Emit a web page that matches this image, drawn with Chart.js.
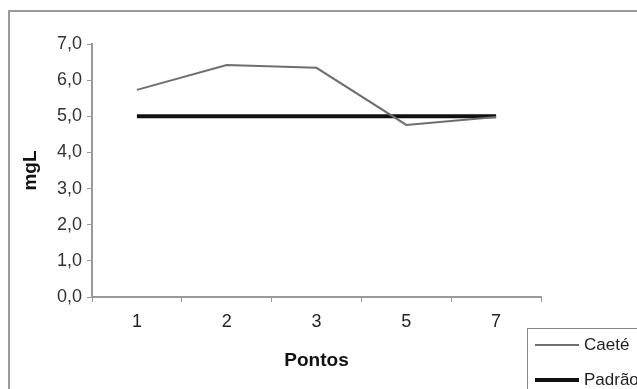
<!DOCTYPE html>
<html>
<head>
<meta charset="utf-8">
<script src="https://cdn.jsdelivr.net/npm/chart.js@4"></script>
<style>
  html, body { margin: 0; padding: 0; background: #fff; }
  #wrap { width: 637px; height: 389px; }
</style>
</head>
<body>
<div id="wrap"><canvas id="grafico" width="637" height="389"></canvas></div>
<script>
// dados
const pontos = ['1', '2', '3', '5', '7'];
const caete = [5.73, 6.42, 6.34, 4.76, 4.98];
const padrao = [5.0, 5.0, 5.0, 5.0, 5.0];
const yTicks = [0, 1, 2, 3, 4, 5, 6, 7];

const fonte = "'Liberation Sans', Arial, sans-serif";

// moldura e legenda desenhadas a mao (estilo Excel)
const molduraPlugin = {
    id: 'moldura',
    beforeDraw: (chart) => {
        const ctx = chart.ctx;
        ctx.save();
        ctx.fillStyle = '#fff';
        ctx.fillRect(0, 0, chart.width, chart.height);
        ctx.strokeStyle = '#9a9a9a';
        ctx.lineWidth = 2;
        ctx.beginPath();
        ctx.moveTo(9, chart.height + 2);
        ctx.lineTo(9, 11);
        ctx.lineTo(chart.width + 2, 11);
        ctx.stroke();
        ctx.restore();
    },
    afterDraw: (chart) => {
        const ctx = chart.ctx;
        ctx.save();
        ctx.strokeStyle = '#888';
        ctx.lineWidth = 1;
        ctx.strokeRect(527.5, 328.5, 140, 80);
        ctx.font = '17px ' + fonte;
        ctx.textBaseline = 'middle';
        ctx.fillStyle = '#222';
        chart.data.datasets.forEach((ds, i) => {
            const y = 345 + i * 35;
            ctx.strokeStyle = ds.borderColor;
            ctx.lineWidth = ds.borderWidth;
            ctx.beginPath();
            ctx.moveTo(535, y);
            ctx.lineTo(579, y);
            ctx.stroke();
            ctx.fillText(ds.label, 584, y);
        });
        ctx.restore();
    }
};

const data = {
    labels: pontos,
    datasets: [
        {
            label: 'Caeté',
            data: caete,
            borderColor: '#6e6e6e',
            borderWidth: 2,
            pointRadius: 0,
            tension: 0
        },
        {
            label: 'Padrão',
            data: padrao,
            borderColor: '#111',
            borderWidth: 4,
            pointRadius: 0,
            tension: 0
        }
    ]
};

const config = {
    type: 'line',
    data: data,
    plugins: [molduraPlugin],
    options: {
        responsive: false,
        animation: false,
        layout: { padding: { left: 0, right: 96, top: 44, bottom: 0 } },
        plugins: {
            legend: { display: false },
            tooltip: { enabled: false }
        },
        scales: {
            x: {
                offset: true,
                grid: { display: true, drawOnChartArea: false, offset: true, tickLength: 5, color: '#999', lineWidth: 1 },
                border: { display: true, color: '#999', width: 2 },
                ticks: { color: '#222', padding: 9, font: { family: fonte, size: 18 } },
                title: {
                    display: true,
                    text: 'Pontos',
                    color: '#111',
                    font: { family: fonte, size: 19, weight: 'bold' },
                    padding: { top: 0, bottom: 17 }
                },
                afterFit: (scale) => { scale.height = 92; }
            },
            y: {
                min: 0,
                max: 7,
                afterBuildTicks: (scale) => { scale.ticks = yTicks.map(v => ({ value: v })); },
                grid: { display: true, drawOnChartArea: false, tickLength: 5, color: '#999', lineWidth: 1 },
                border: { display: true, color: '#999', width: 2 },
                ticks: {
                    color: '#333',
                    padding: 5,
                    font: { family: fonte, size: 18 },
                    callback: (v) => Number(v).toFixed(1).replace('.', ',')
                },
                title: {
                    display: true,
                    text: 'mgL',
                    color: '#111',
                    font: { family: fonte, size: 19, weight: 'bold' },
                    padding: { top: 19, bottom: 0 }
                },
                afterFit: (scale) => { scale.width = 92; }
            }
        }
    }
};

new Chart(document.getElementById('grafico'), config);
</script>
</body>
</html>
